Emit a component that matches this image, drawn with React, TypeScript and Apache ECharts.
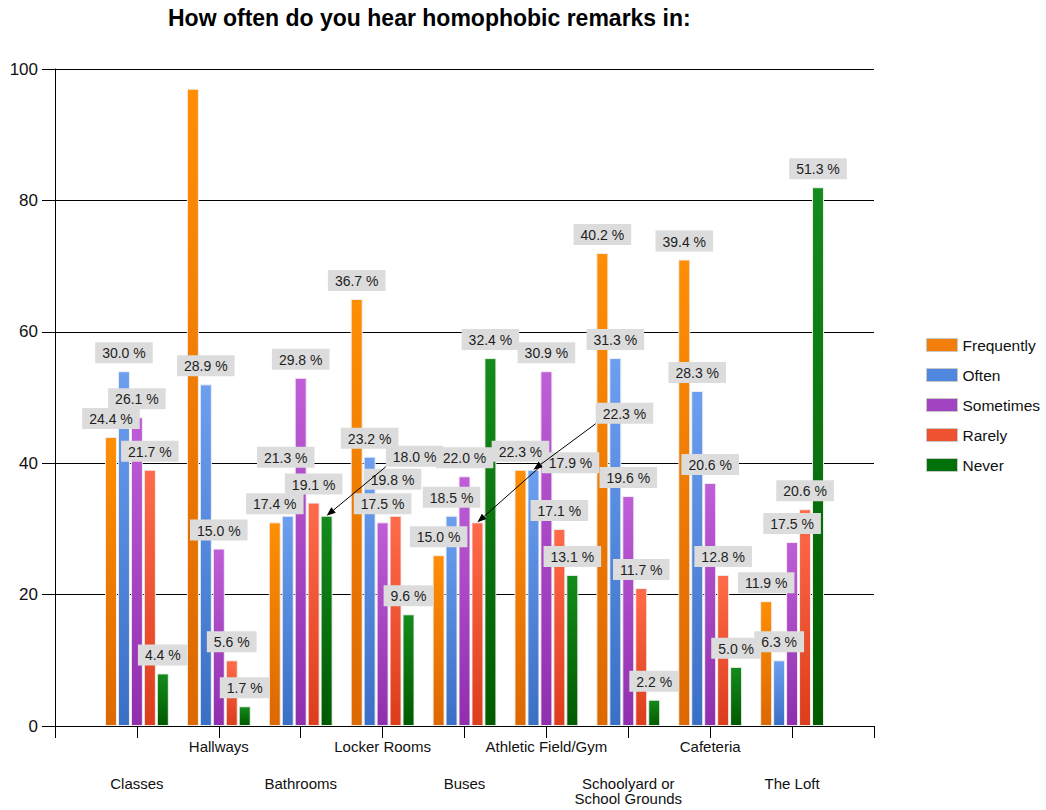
import React, { useEffect, useRef } from 'react';
import * as echarts from 'echarts';

const FONT = "'Liberation Sans', Arial, Helvetica, sans-serif";

const chartTitle = 'How often do you hear homophobic remarks in:';

const categories = [
  'Classes',
  'Hallways',
  'Bathrooms',
  'Locker Rooms',
  'Buses',
  'Athletic Field/Gym',
  'Schoolyard or\nSchool Grounds',
  'Cafeteria',
  'The Loft',
];

const seriesNames = ['Frequently', 'Often', 'Sometimes', 'Rarely', 'Never'];

// Number of answers per location
const frequently = [44, 97, 31, 65, 26, 39, 72, 71, 19];
const often = [54, 52, 32, 41, 32, 39, 56, 51, 10];
const sometimes = [47, 27, 53, 31, 38, 54, 35, 37, 28];
const rarely = [39, 10, 34, 32, 31, 30, 21, 23, 33];
const never = [8, 3, 32, 17, 56, 23, 4, 9, 82];

// Share printed on each bar (null: no label)
const frequentlyPct = [24.4, null, 17.4, 36.7, 15.0, 22.3, 40.2, 39.4, 11.9];
const oftenPct = [30.0, 28.9, 21.3, 23.2, 18.5, 22.3, 31.3, 28.3, 6.3];
const sometimesPct = [26.1, 15.0, 29.8, 17.5, 22.0, 30.9, 19.6, 20.6, 17.5];
const rarelyPct = [21.7, 5.6, 19.1, 19.8, 17.9, 17.1, 11.7, 12.8, 20.6];
const neverPct = [4.4, 1.7, 18.0, 9.6, 32.4, 13.1, 2.2, 5.0, 51.3];

const yMin = 0;
const yMax = 100;
const yStep = 20;

const values = [frequently, often, sometimes, rarely, never];
const percents = [frequentlyPct, oftenPct, sometimesPct, rarelyPct, neverPct];

// Bar gradients (top, bottom) and flat legend swatches
const gradients: [string, string][] = [
  ['#FF8E05', '#DC6800'],
  ['#6C9FF0', '#3A6FC6'],
  ['#C05DD8', '#8F2FAE'],
  ['#FF6B4A', '#DC3D1C'],
  ['#148B1C', '#005A00'],
];
const swatches = ['#F27F0C', '#4F86DE', '#A243C2', '#EE5230', '#00700B'];

// Labels moved away from crowded columns; some get an arrow back to their bar
const labelMoves = [
  { series: 1, category: 2, dx: -2, dy: -40, arrow: null as null | [number, number] },
  { series: 4, category: 2, dx: 88, dy: -41, arrow: [0, 1] as [number, number] },
  { series: 3, category: 3, dx: -3, dy: -18, arrow: null as null | [number, number] },
  { series: 3, category: 4, dx: 93, dy: -41, arrow: [0, 0.62] as [number, number] },
  { series: 1, category: 5, dx: 91, dy: -38, arrow: [0, 1] as [number, number] },
];

const BAR_W = 12;
const BAR_GAP = '8%';
const LABEL_FONT = 14;
const LABEL_LINE = 14;
const LABEL_PAD = [4, 7, 3, 7];
const LABEL_DIST = 8;

const fmtPct = (p: number) => p.toFixed(1) + ' %';

function measure(text: string): number {
  const ctx = document.createElement('canvas').getContext('2d');
  if (!ctx) return text.length * 7.5;
  ctx.font = `${LABEL_FONT}px ${FONT}`;
  return ctx.measureText(text).width;
}

function buildOption() {
  const axisData = ['', ...categories, ''];

  const barSeries = seriesNames.map((name, s) => {
    const data: any[] = ['-'];
    values[s].forEach((v, c) => {
      const pct = percents[s][c];
      const move = labelMoves.find((m) => m.series === s && m.category === c);
      if (pct == null) {
        data.push({ value: v, label: { show: false } });
      } else if (move) {
        data.push({ value: v, label: { offset: [move.dx, move.dy] } });
      } else {
        data.push(v);
      }
    });
    data.push('-');
    return {
      name,
      type: 'bar',
      xAxisIndex: 0,
      yAxisIndex: 0,
      barWidth: BAR_W,
      barGap: BAR_GAP,
      data,
      itemStyle: {
        color: new echarts.graphic.LinearGradient(0, 0, 0, 1, [
          { offset: 0, color: gradients[s][0] },
          { offset: 1, color: gradients[s][1] },
        ]),
        borderColor: 'rgba(240,240,240,0.95)',
        borderWidth: 1,
      },
      label: {
        show: true,
        position: 'top',
        distance: LABEL_DIST,
        backgroundColor: '#DCDCDC',
        padding: LABEL_PAD,
        lineHeight: LABEL_LINE,
        fontSize: LABEL_FONT,
        fontFamily: FONT,
        color: '#1E1E1E',
        formatter: (p: any) => {
          const pct = percents[s][p.dataIndex - 1];
          return pct == null ? '' : fmtPct(pct);
        },
      },
      emphasis: { disabled: true },
    };
  });

  const arrowData = labelMoves
    .filter((m) => m.arrow)
    .map((m) => [
      m.category + 1,
      values[m.series][m.category],
      m.series,
      m.dx,
      m.dy,
      (m.arrow as [number, number])[0],
      (m.arrow as [number, number])[1],
      measure(fmtPct(percents[m.series][m.category] as number)),
    ]);

  const arrowSeries = {
    type: 'custom',
    name: 'callouts',
    xAxisIndex: 0,
    yAxisIndex: 0,
    z: 10,
    silent: true,
    encode: { x: 0, y: 1 },
    data: arrowData,
    renderItem: (_params: any, api: any) => {
      const cat = api.value(0);
      const val = api.value(1);
      const s = api.value(2);
      const dx = api.value(3);
      const dy = api.value(4);
      const fx = api.value(5);
      const fy = api.value(6);
      const textW = api.value(7);
      const layout = api.barLayout({ count: seriesNames.length, barWidth: BAR_W, barGap: BAR_GAP });
      const pt = api.coord([cat, val]);
      const tipX = pt[0] + layout[s].offsetCenter;
      const tipY = pt[1];
      const boxW = textW + LABEL_PAD[1] + LABEL_PAD[3];
      const boxH = LABEL_LINE + LABEL_PAD[0] + LABEL_PAD[2];
      const boxBottom = tipY - LABEL_DIST + dy;
      const boxLeft = tipX + dx - boxW / 2;
      const sx = boxLeft + fx * boxW;
      const sy = boxBottom - boxH + fy * boxH;
      const ang = Math.atan2(tipY - sy, tipX - sx);
      const cos = Math.cos(ang);
      const sin = Math.sin(ang);
      const headLen = 9;
      const headHalf = 3.5;
      const bx = tipX - headLen * cos;
      const by = tipY - headLen * sin;
      return {
        type: 'group',
        children: [
          {
            type: 'line',
            shape: { x1: sx, y1: sy, x2: bx, y2: by },
            style: { stroke: '#000', lineWidth: 1 },
          },
          {
            type: 'polygon',
            shape: {
              points: [
                [tipX, tipY],
                [bx + headHalf * sin, by - headHalf * cos],
                [bx - headHalf * sin, by + headHalf * cos],
              ],
            },
            style: { fill: '#000' },
          },
        ],
      };
    },
  };

  return {
    animation: false,
    backgroundColor: '#FFFFFF',
    title: {
      text: chartTitle,
      left: 168,
      top: 6,
      padding: 0,
      textStyle: { fontSize: 23, fontWeight: 'bold', fontFamily: FONT, color: '#000' },
    },
    legend: {
      orient: 'vertical',
      left: 926,
      top: 337,
      padding: 0,
      itemWidth: 31,
      itemHeight: 13,
      itemGap: 14,
      icon: 'rect',
      selectedMode: false,
      textStyle: { fontSize: 15.5, fontFamily: FONT, color: '#111', lineHeight: 16 },
      data: seriesNames.map((name, s) => ({
        name,
        itemStyle: { color: swatches[s], borderColor: '#C8C8C8', borderWidth: 1 },
      })),
    },
    grid: {
      left: 55,
      right: 172,
      top: 69,
      bottom: 84,
      containLabel: false,
      outerBoundsMode: 'none',
    },
    xAxis: [
      {
        type: 'category',
        data: axisData,
        boundaryGap: false,
        position: 'bottom',
        axisLine: { show: true, onZero: false, lineStyle: { color: '#000', width: 1 } },
        axisTick: { show: true, length: 12, interval: 0, lineStyle: { color: '#000' } },
        axisLabel: {
          interval: 0,
          margin: 13,
          fontSize: 15,
          lineHeight: 15,
          fontFamily: FONT,
          color: '#111',
          formatter: (v: string, i: number) => (i % 2 === 0 ? v : ''),
        },
        splitLine: { show: false },
      },
      {
        type: 'category',
        data: axisData,
        boundaryGap: false,
        position: 'bottom',
        axisLine: { show: false, onZero: false },
        axisTick: { show: false },
        axisLabel: {
          interval: 0,
          margin: 50,
          fontSize: 15,
          lineHeight: 15,
          fontFamily: FONT,
          color: '#111',
          formatter: (v: string, i: number) => (i % 2 === 1 ? v : ''),
        },
        splitLine: { show: false },
      },
    ],
    yAxis: {
      type: 'value',
      min: yMin,
      max: yMax,
      interval: yStep,
      axisLine: { show: true, lineStyle: { color: '#000', width: 1 } },
      axisTick: { show: true, length: 13, lineStyle: { color: '#000' } },
      axisLabel: { margin: 17, fontSize: 17, fontFamily: FONT, color: '#111' },
      splitLine: { show: true, lineStyle: { color: '#000', width: 1 } },
    },
    series: [...barSeries, arrowSeries],
  };
}

export default function App() {
  const ref = useRef<HTMLDivElement>(null);

  useEffect(() => {
    if (!ref.current) return;
    const chart = echarts.init(ref.current, undefined, { renderer: 'svg' });
    chart.setOption(buildOption() as any);
    return () => chart.dispose();
  }, []);

  return (
    <div
      ref={ref}
      style={{ position: 'absolute', left: 0, top: 0, width: 1046, height: 810, background: '#fff' }}
    />
  );
}
